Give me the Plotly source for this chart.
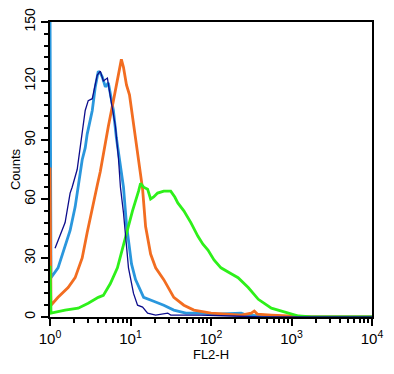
import plotly.graph_objects as go

# FL2-H channel values and counts
navy_x = [1.155, 1.259, 1.540, 1.778, 1.884, 2.175, 2.371, 2.738, 2.985, 3.350, 3.864, 4.217, 4.600, 5.164, 5.623, 6.494, 7.079, 7.499, 8.180, 8.660, 9.441, 10.90, 12.23, 14.13, 16.31, 20.54, 29.0, 31.62, 75.0, 177.8, 421.7, 10000]
navy_y = [35, 39, 48, 63, 66, 75, 86, 105, 110, 111, 123, 125, 120, 121.5, 112, 97, 81, 66, 53, 43, 25, 12, 6, 5, 2, 1, 2, 1, 1, 0.5, 0, 0]

blue_x = [1.0, 1.029, 1.259, 1.540, 1.778, 2.054, 2.239, 2.512, 2.738, 2.897, 3.350, 3.652, 3.981, 4.217, 4.467, 4.870, 5.309, 6.131, 6.683, 7.499, 8.180, 8.913, 9.441, 10.29, 11.55, 14.55, 19.4, 25.9, 34.5, 48.7, 75.0, 115.5, 237, 274, 421.7, 1334, 10000]
blue_y = [160, 20, 25, 36, 44, 56, 66, 80, 86, 93, 105, 117, 125, 124, 122, 117, 119, 105, 91, 78, 66, 47, 38, 27, 19, 10, 8, 6, 3.5, 2, 2, 1.5, 2, 1, 0.5, 0, 0]

orange_x = [1.0, 1.029, 1.259, 1.679, 2.054, 2.512, 2.897, 3.350, 3.864, 4.217, 4.732, 5.309, 6.131, 6.879, 7.701, 8.180, 8.913, 9.715, 10.90, 12.23, 13.34, 14.13, 15.40, 17.78, 20.54, 25.9, 34.5, 46.0, 61.3, 100, 237, 316, 345, 376, 562, 1334, 1778, 10000]
orange_y = [76, 6, 10, 15, 20, 30, 43, 56, 67, 74, 86, 97, 110, 120, 131, 127, 118, 113, 98, 85, 74, 65, 46, 32, 25, 19, 10, 6, 3.5, 2, 1, 2, 3, 1.5, 1, 0.5, 0, 0]

green_x = [1.0, 1.029, 1.540, 2.239, 2.985, 3.981, 4.600, 5.623, 6.879, 8.660, 10.59, 12.59, 13.34, 14.55, 16.31, 17.78, 19.4, 21.7, 25.9, 31.6, 35.5, 38.7, 46.0, 56.2, 68.8, 79.4, 91.7, 109, 133, 178, 217, 290, 387, 562, 917, 1223, 1778, 10000]
green_y = [26, 2, 3.5, 4.5, 7, 10, 11, 17, 25, 41, 54, 64, 68, 66, 65, 60, 61, 63, 64, 64, 61, 58, 54, 48, 41, 37, 34, 29, 25, 22, 20, 15, 9, 4.5, 2, 0.5, 0, 0]

x_major_vals = [1, 10, 100, 1000, 10000]
x_major_text = ["10<sup>0</sup>", "10<sup>1</sup>", "10<sup>2</sup>", "10<sup>3</sup>", "10<sup>4</sup>"]
x_minor_vals = [m * d for d in [1, 10, 100, 1000] for m in range(2, 10)]
y_major_vals = [0, 30, 60, 90, 120, 150]

FONT = "Liberation Sans, Arial, sans-serif"

fig = go.Figure()
fig.add_trace(go.Scatter(x=blue_x, y=blue_y, mode="lines",
                         line=dict(color="#2a97dd", width=2.8), showlegend=False))
fig.add_trace(go.Scatter(x=orange_x, y=orange_y, mode="lines",
                         line=dict(color="#f26d21", width=2.8), showlegend=False))
fig.add_trace(go.Scatter(x=green_x, y=green_y, mode="lines",
                         line=dict(color="#2ef01a", width=2.8), showlegend=False))
fig.add_trace(go.Scatter(x=navy_x, y=navy_y, mode="lines",
                         line=dict(color="#0d0d8c", width=1.3), showlegend=False))

# the page body adds an 8 px offset, so the figure is sized to fit the window
fig.update_layout(
    width=386, height=366,
    margin=dict(l=42, r=22, t=14, b=57),
    paper_bgcolor="white", plot_bgcolor="white",
    font=dict(family=FONT, color="black"),
    xaxis=dict(
        type="log", range=[0, 4], automargin=False,
        tickvals=x_major_vals, ticktext=x_major_text,
        ticks="outside", ticklen=7, tickwidth=1.5, tickcolor="black",
        tickfont=dict(size=15),
        minor=dict(tickvals=x_minor_vals, ticks="outside", ticklen=4,
                   tickwidth=1.5, tickcolor="black", showgrid=False),
        showgrid=False, zeroline=False,
        showline=True, linecolor="black", linewidth=2, mirror=True,
        title=dict(text="FL2-H", font=dict(size=13), standoff=1),
    ),
    yaxis=dict(
        range=[0, 150], automargin=False,
        tickvals=y_major_vals,
        ticks="outside", ticklen=7, tickwidth=1.5, tickcolor="black",
        tickangle=-90, tickfont=dict(size=14),
        minor=dict(dtick=6, ticks="outside", ticklen=4, tickwidth=1.5,
                   tickcolor="black", showgrid=False),
        showgrid=False, zeroline=False,
        showline=True, linecolor="black", linewidth=2, mirror=True,
        title=dict(text="Counts", font=dict(size=13), standoff=1),
    ),
)

fig.write_html("out.html")
